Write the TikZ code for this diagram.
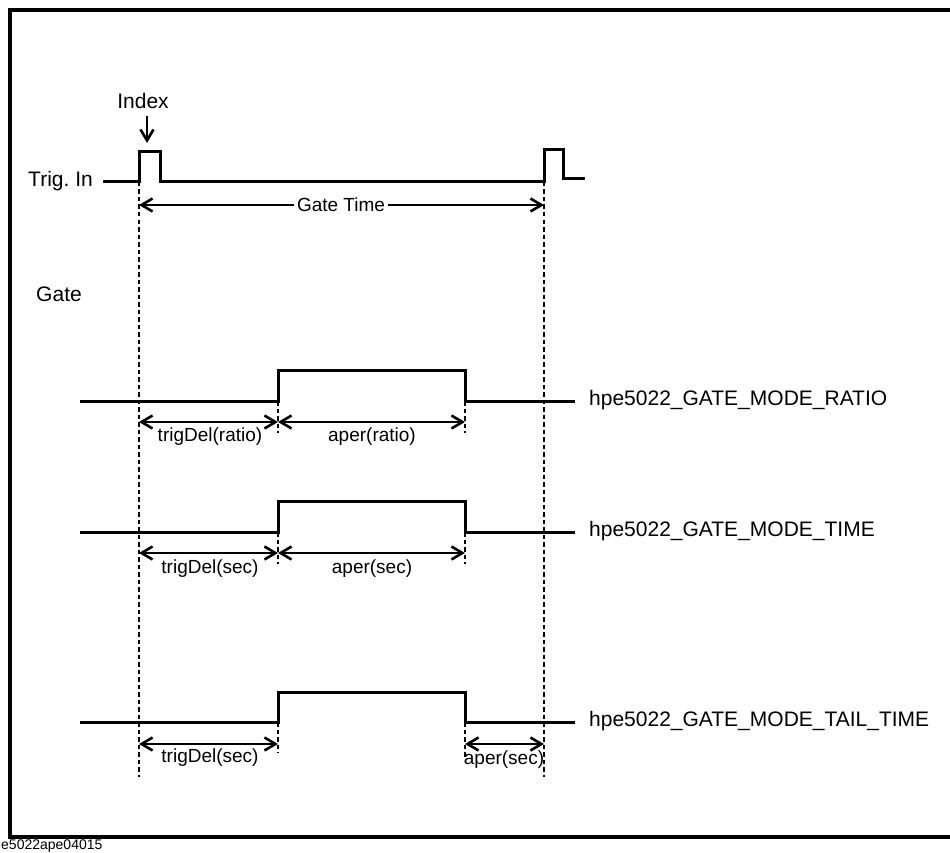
\documentclass[tikz,border=0pt]{standalone}
\usepackage{fontspec}
\setmainfont{Liberation Sans}
\usetikzlibrary{arrows.meta}
\begin{document}
\frenchspacing
\begin{tikzpicture}[x=1pt,y=-1pt,
  sig/.style={line width=3pt, line cap=butt, line join=miter},
  guide/.style={line width=2.6pt, dash pattern=on 4.5pt off 3pt},
  dim/.style={line width=2.6pt, {Straight Barb[length=11pt,width=13pt,line width=2.6pt]}-{Straight Barb[length=11pt,width=13pt,line width=2.6pt]}},
  lbl/.style={font=\fontsize{21}{24}\selectfont, inner sep=1pt},
  dlbl/.style={font=\fontsize{19}{23}\selectfont, inner sep=1pt},
  frame/.style={line width=3.2pt}]
\useasboundingbox (0,0) rectangle (950,853);
\fill[white] (0,0) rectangle (950,853);
% frame
\draw[frame] (960,10) -- (10,10) -- (10,837) -- (960,837);
\node[font=\fontsize{14}{16}\selectfont, anchor=south west, inner sep=0pt] (fig) at (1,852.6) {e5022ape04015};

% Trig In
\node[lbl, anchor=east] (trig) at (94,181) {Trig. In};
\coordinate (t0) at (103,182);
\coordinate (r1) at (139,182);
\coordinate (r2) at (544,182);
\draw[sig] (t0) -- (r1) -- (139,152) -- (160,152) -- (160,182) -- (r2) -- (544,150) -- (563,150) -- (563,179) -- (585,179);
\node[lbl] (index) at (143,101) {Index};
\coordinate (ia) at (147,143);
\draw[line width=2.6pt, -{Straight Barb[length=11pt,width=13pt,line width=2.6pt]}] (index.south -| ia) ++(0,6) -- (ia);

% main guides
\coordinate (r1b) at (139,777);
\coordinate (r2b) at (544,777);
\draw[guide] (r1) -- (r1b);
\draw[guide] (r2) -- (r2b);

% Gate time
\coordinate (g1) at (139,205);
\coordinate (g2) at (544,205);
\draw[dim] (g1) -- (g2);
\node[dlbl, fill=white, inner xsep=3pt] (gt) at (341,205) {Gate Time};

\node[lbl] (gate) at (59,294) {Gate};

% Row 1 ratio
\coordinate (a0) at (80,401);
\coordinate (a1) at (278,401);
\coordinate (a2) at (465,401);
\draw[sig] (a0) -- (a1) -- (278,370) -- (465,370) -- (a2) -- (575,401);
\node[lbl, anchor=west] (m1) at (588,400) {hpe5022\_GATE\_MODE\_RATIO};
\draw[guide] (a1) -- (278,433);
\draw[guide] (a2) -- (465,433);
\coordinate (a1d) at (139,422);
\coordinate (a2d) at (278,422);
\coordinate (a3d) at (465,422);
\draw[dim] (a1d) -- (a2d);
\draw[dim] (a2d) -- (a3d);
\node[dlbl] (d1) at (210,437) {trigDel(ratio)};
\node[dlbl] (d2) at (372,437) {aper(ratio)};

% Row 2 time
\coordinate (b0) at (80,532);
\coordinate (b1) at (278,532);
\coordinate (b2) at (465,532);
\draw[sig] (b0) -- (b1) -- (278,501) -- (465,501) -- (b2) -- (575,532);
\node[lbl, anchor=west] (m2) at (588,531) {hpe5022\_GATE\_MODE\_TIME};
\draw[guide] (b1) -- (278,564);
\draw[guide] (b2) -- (465,564);
\coordinate (b1d) at (139,553);
\coordinate (b2d) at (278,553);
\coordinate (b3d) at (465,553);
\draw[dim] (b1d) -- (b2d);
\draw[dim] (b2d) -- (b3d);
\node[dlbl] (e1) at (210,569) {trigDel(sec)};
\node[dlbl] (e2) at (372,569) {aper(sec)};

% Row 3 tail time
\coordinate (c0) at (80,722);
\coordinate (c1) at (278,722);
\coordinate (c2) at (465,722);
\draw[sig] (c0) -- (c1) -- (278,692) -- (465,692) -- (c2) -- (575,722);
\node[lbl, anchor=west] (m3) at (588,721) {hpe5022\_GATE\_MODE\_TAIL\_TIME};
\draw[guide] (c1) -- (278,753);
\draw[guide] (c2) -- (465,757);
\coordinate (c1d) at (139,744);
\coordinate (c2d) at (278,744);
\coordinate (c3d) at (465,744);
\coordinate (c4d) at (544,744);
\draw[dim] (c1d) -- (c2d);
\draw[dim] (c3d) -- (c4d);
\node[dlbl] (f1) at (210,758) {trigDel(sec)};
\node[dlbl] (f2) at (504,760) {aper(sec)};
\end{tikzpicture}
\end{document}
